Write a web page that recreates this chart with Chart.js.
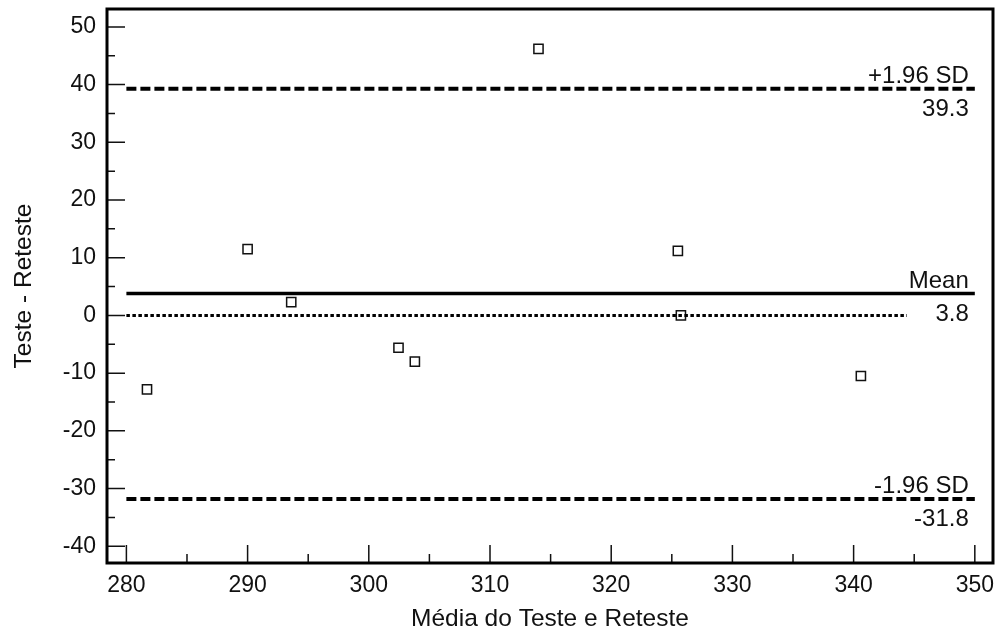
<!DOCTYPE html>
<html>
<head>
<meta charset="utf-8">
<script src="https://cdn.jsdelivr.net/npm/chart.js@4/dist/chart.umd.min.js"></script>
<style>
  html, body { margin: 0; padding: 0; background: #fff; }
  #wrap { width: 1000px; height: 634px; }
</style>
</head>
<body>
<div id="wrap"><canvas id="chart" width="1000" height="634"></canvas></div>
<script>
// dados (Bland-Altman)
const media = [281.7, 290.0, 293.6, 302.45, 303.8, 314.0, 325.5, 325.75, 340.6];
const diferenca = [-12.8, 11.5, 2.3, -5.6, -8.0, 46.2, 11.2, 0.0, -10.5];

const linhaX = [280, 350];
const zeroX = [280, 344.4];
const limites = [39.3, 3.8, -31.8];
const limitesNome = ['+1.96 SD', 'Mean', '-1.96 SD'];
const limitesTexto = ['39.3', '3.8', '-31.8'];

const xTicks = [280, 290, 300, 310, 320, 330, 340, 350];
const yTicks = [-40, -30, -20, -10, 0, 10, 20, 30, 40, 50];
const xMinor = [285, 295, 305, 315, 325, 335, 345];
const yMinor = [-35, -25, -15, -5, 5, 15, 25, 35, 45];

const tinta = '#111';
const fonte = '"Liberation Sans", Arial, sans-serif';

function linha(y, xs, dash, width) {
    return {
        type: 'line',
        data: xs.map(x => ({x: x, y: y})),
        borderColor: '#000',
        borderWidth: width,
        borderDash: dash,
        borderCapStyle: 'butt',
        pointRadius: 0,
        fill: false
    };
}

const moldura = {
    id: 'moldura',
    afterDraw(chart) {
        const ctx = chart.ctx;
        const a = chart.chartArea;
        const sx = chart.scales.x;
        const sy = chart.scales.y;
        ctx.save();
        ctx.strokeStyle = tinta;
        ctx.lineWidth = 1.5;
        ctx.beginPath();
        xTicks.forEach(v => { const p = sx.getPixelForValue(v); ctx.moveTo(p, a.bottom); ctx.lineTo(p, a.bottom - 18); });
        xMinor.forEach(v => { const p = sx.getPixelForValue(v); ctx.moveTo(p, a.bottom); ctx.lineTo(p, a.bottom - 9); });
        yTicks.forEach(v => { const p = sy.getPixelForValue(v); ctx.moveTo(a.left, p); ctx.lineTo(a.left + 18, p); });
        yMinor.forEach(v => { const p = sy.getPixelForValue(v); ctx.moveTo(a.left, p); ctx.lineTo(a.left + 8, p); });
        ctx.stroke();
        ctx.lineWidth = 3;
        ctx.strokeStyle = '#000';
        ctx.strokeRect(a.left, a.top, a.right - a.left, a.bottom - a.top);

        // rótulos das linhas
        ctx.fillStyle = tinta;
        ctx.font = '24px ' + fonte;
        ctx.textAlign = 'right';
        ctx.textBaseline = 'alphabetic';
        const xr = sx.getPixelForValue(350) - 6;
        limites.forEach((v, i) => {
            const p = sy.getPixelForValue(v);
            ctx.fillText(limitesNome[i], xr, p - 6);
            ctx.fillText(limitesTexto[i], xr, p + 27);
        });
        ctx.restore();
    }
};

const ctx = document.getElementById('chart').getContext('2d');
const chart = new Chart(ctx, {
    type: 'scatter',
    data: {
        datasets: [
            linha(limites[0], linhaX, [10, 4], 4),
            linha(limites[1], linhaX, [], 3.5),
            linha(limites[2], linhaX, [10, 4], 4),
            linha(0, zeroX, [3.5, 2.5], 3),
            {
                label: 'Diferença',
                data: media.map((m, i) => ({x: m, y: diferenca[i]})),
                pointStyle: 'rect',
                pointRadius: 6.5,
                pointBorderWidth: 1.5,
                borderColor: tinta,
                backgroundColor: 'rgba(0,0,0,0)'
            }
        ]
    },
    options: {
        responsive: false,
        animation: false,
        events: [],
        layout: { autoPadding: false, padding: { top: 9, right: 7, left: 0, bottom: 0 } },
        plugins: {
            legend: { display: false },
            tooltip: { enabled: false }
        },
        scales: {
            x: {
                type: 'linear',
                min: 278.4,
                max: 351.5,
                afterFit(scale) {
                    scale.height = 71;
                    scale.paddingLeft = 0;
                    scale.paddingRight = 0;
                },
                afterBuildTicks(scale) { scale.ticks = xTicks.map(v => ({value: v})); },
                grid: { display: false, drawTicks: false },
                border: { display: false },
                ticks: {
                    color: tinta,
                    padding: 9,
                    maxRotation: 0,
                    font: { family: fonte, size: 23 }
                },
                title: {
                    display: true,
                    text: 'Média do Teste e Reteste',
                    color: tinta,
                    padding: { top: 0, bottom: 0 },
                    font: { family: fonte, size: 24.5 }
                }
            },
            y: {
                type: 'linear',
                min: -42.9,
                max: 53.1,
                afterFit(scale) {
                    scale.width = 107;
                    scale.paddingTop = 0;
                    scale.paddingBottom = 0;
                },
                afterBuildTicks(scale) { scale.ticks = yTicks.map(v => ({value: v})); },
                grid: { display: false, drawTicks: false },
                border: { display: false },
                ticks: {
                    color: tinta,
                    padding: 11,
                    font: { family: fonte, size: 23 }
                },
                title: {
                    display: true,
                    text: 'Teste - Reteste',
                    color: tinta,
                    padding: { top: 10, bottom: 0 },
                    font: { family: fonte, size: 24.5 }
                }
            }
        }
    },
    plugins: [moldura]
});
</script>
</body>
</html>
